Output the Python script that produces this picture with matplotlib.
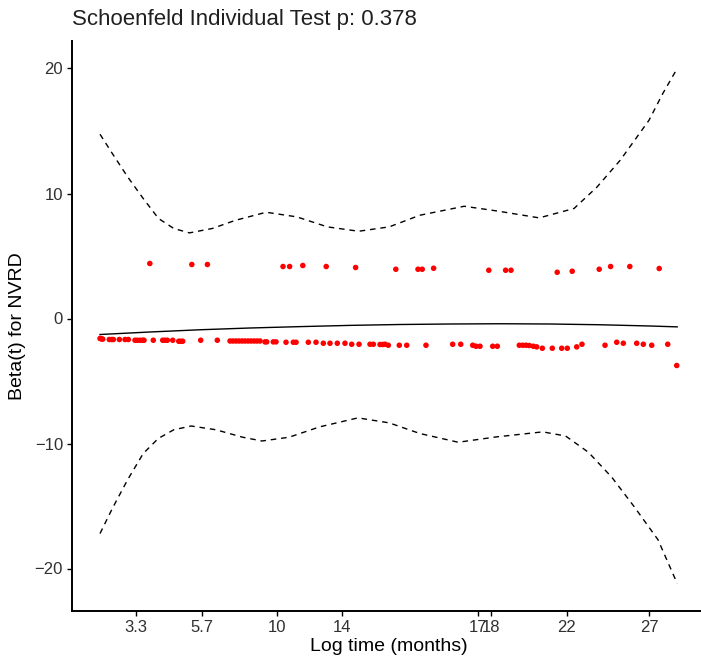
import numpy as np
import matplotlib.pyplot as plt

plt.rcParams['font.family'] = ['Liberation Sans', 'DejaVu Sans']

# x is the transformed time scale used by the plot (0 = first event)
tick_pos = [6.0, 17.0, 29.5, 40.33, 63.0, 65.17, 77.83, 91.5]
tick_lab = ["3.3", "5.7", "10", "14", "17", "18", "22", "27"]

# smoothed beta(t) and its confidence band
fit_x = [0, 8.3, 16.7, 25, 33.3, 41.7, 50, 58.3, 66.7, 75, 83.3, 91.7, 96.2]
fit_y = [-1.28, -1.08, -0.9, -0.76, -0.65, -0.55, -0.48, -0.44, -0.42, -0.44, -0.5, -0.6, -0.67]

up_x = [0, 2.05, 4.6, 7.2, 9.75, 12.3, 14.9, 18.7, 22.6, 27.7, 32.8, 37.9, 43.1, 48.2,
        53.3, 60.7, 66.2, 73.2, 79.0, 82.8, 86.7, 91.5, 93.8, 96.2]
up_y = [14.74, 13.2, 11.33, 9.6, 8.0, 7.2, 6.85, 7.2, 7.86, 8.5, 8.13, 7.33, 6.98, 7.33,
        8.26, 8.98, 8.6, 8.05, 8.8, 10.5, 12.66, 15.86, 18.0, 20.0]

lo_x = [0, 2.05, 4.6, 7.2, 9.7, 12.3, 15.2, 19.3, 23.8, 27.0, 31.5, 36.6, 43.0, 48.2,
        53.3, 59.7, 66.1, 73.8, 77.6, 81.4, 85.3, 89.1, 93.0, 96.2]
lo_y = [-17.2, -15.2, -12.9, -10.8, -9.6, -8.9, -8.6, -8.9, -9.5, -9.8, -9.5, -8.67, -7.95, -8.35,
        -9.2, -9.9, -9.47, -9.07, -9.4, -10.7, -12.7, -15.1, -17.7, -21.2]

# scaled Schoenfeld residuals
res_hi_x = [8.3, 15.3, 17.9, 30.5, 31.6, 33.8, 37.7, 42.6, 49.3, 53.0, 53.7, 55.6,
            64.8, 67.6, 68.5, 76.2, 78.7, 83.2, 85.1, 88.3, 93.2]
res_hi_y = [4.4, 4.32, 4.32, 4.16, 4.16, 4.24, 4.16, 4.08, 3.94, 3.94, 3.94, 4.02,
            3.86, 3.86, 3.86, 3.7, 3.78, 3.94, 4.16, 4.16, 4.0]

res_lo_x = [0.0, 0.12, 0.28, 0.45, 1.55, 1.95, 2.22, 3.22, 4.17, 4.72,
            5.83, 6.22, 6.67, 7.12, 7.33, 8.88, 10.45, 10.83, 11.22, 12.12,
            13.12, 13.45, 13.78, 16.78, 19.55,
            21.67, 22.17, 22.67, 23.17, 23.67, 24.17, 24.67, 25.17, 25.67, 26.17, 26.67,
            27.5, 27.78, 28.88, 29.33, 31.0, 32.22, 32.67, 34.72, 36.0,
            37.22, 38.33, 39.55, 40.83, 41.95, 43.17, 45.0, 45.55,
            46.67, 47.12, 47.5, 48.05, 49.88, 51.12, 54.33, 58.78, 60.12,
            62.12, 62.67, 63.33, 65.45, 66.22,
            69.88, 70.45, 71.0, 71.55, 72.22, 72.78, 73.72, 75.38, 76.95, 77.88,
            79.45, 80.33, 84.17, 86.12, 87.22, 89.45, 90.55, 91.95, 94.62, 96.12]
res_lo_y = [-1.6, -1.6, -1.63, -1.65, -1.68, -1.68, -1.68, -1.68, -1.68, -1.68,
            -1.74, -1.74, -1.74, -1.74, -1.74, -1.74, -1.74, -1.74, -1.74, -1.74,
            -1.82, -1.82, -1.82, -1.74, -1.74,
            -1.8, -1.8, -1.8, -1.8, -1.8, -1.8, -1.8, -1.8, -1.8, -1.8, -1.8,
            -1.87, -1.87, -1.87, -1.87, -1.9, -1.9, -1.9, -1.9, -1.9,
            -1.98, -1.98, -1.98, -1.98, -2.06, -2.06, -2.06, -2.06,
            -2.08, -2.08, -2.06, -2.14, -2.14, -2.14, -2.14, -2.06, -2.06,
            -2.14, -2.22, -2.22, -2.22, -2.22,
            -2.14, -2.14, -2.14, -2.16, -2.22, -2.27, -2.38, -2.38, -2.38, -2.38,
            -2.27, -2.06, -2.14, -1.9, -1.98, -1.98, -2.06, -2.14, -2.06, -3.76]

fig = plt.figure(figsize=(7.01, 6.58), dpi=100)
ax = fig.add_axes([72 / 701, 47 / 658, 634 / 701, 570 / 658])

ax.scatter(res_hi_x + res_lo_x, res_hi_y + res_lo_y, s=16, color='#ff0000', edgecolors='none', zorder=3)
ax.plot(fit_x, fit_y, color='black', lw=1.0)
ax.plot(up_x, up_y, color='black', lw=1.0, linestyle=(0, (4, 3.5)))
ax.plot(lo_x, lo_y, color='black', lw=1.0, linestyle=(0, (4, 3.5)))

ax.set_xlim(-4.67, 101.0)
ax.set_ylim(-23.4, 22.2)
ax.set_xticks(tick_pos)
ax.set_xticklabels(tick_lab)
ax.set_yticks([-20, -10, 0, 10, 20])

for d in ['top', 'right']:
    ax.spines[d].set_visible(False)
for d in ['left', 'bottom']:
    ax.spines[d].set_linewidth(1.4)
ax.tick_params(length=3.5, width=1.0, direction='out', labelsize=12, labelcolor='#303030', pad=3)

ax.set_xlabel('Log time (months)', fontsize=14, labelpad=2)
ax.set_ylabel('Beta(t) for NVRD', fontsize=14, labelpad=6)
fig.text(72 / 701, 1 - 19 / 658, 'Schoenfeld Individual Test p: 0.378', fontsize=16,
         ha='left', va='center', color='#202020')

plt.savefig('out.png', dpi=100)
plt.close()
